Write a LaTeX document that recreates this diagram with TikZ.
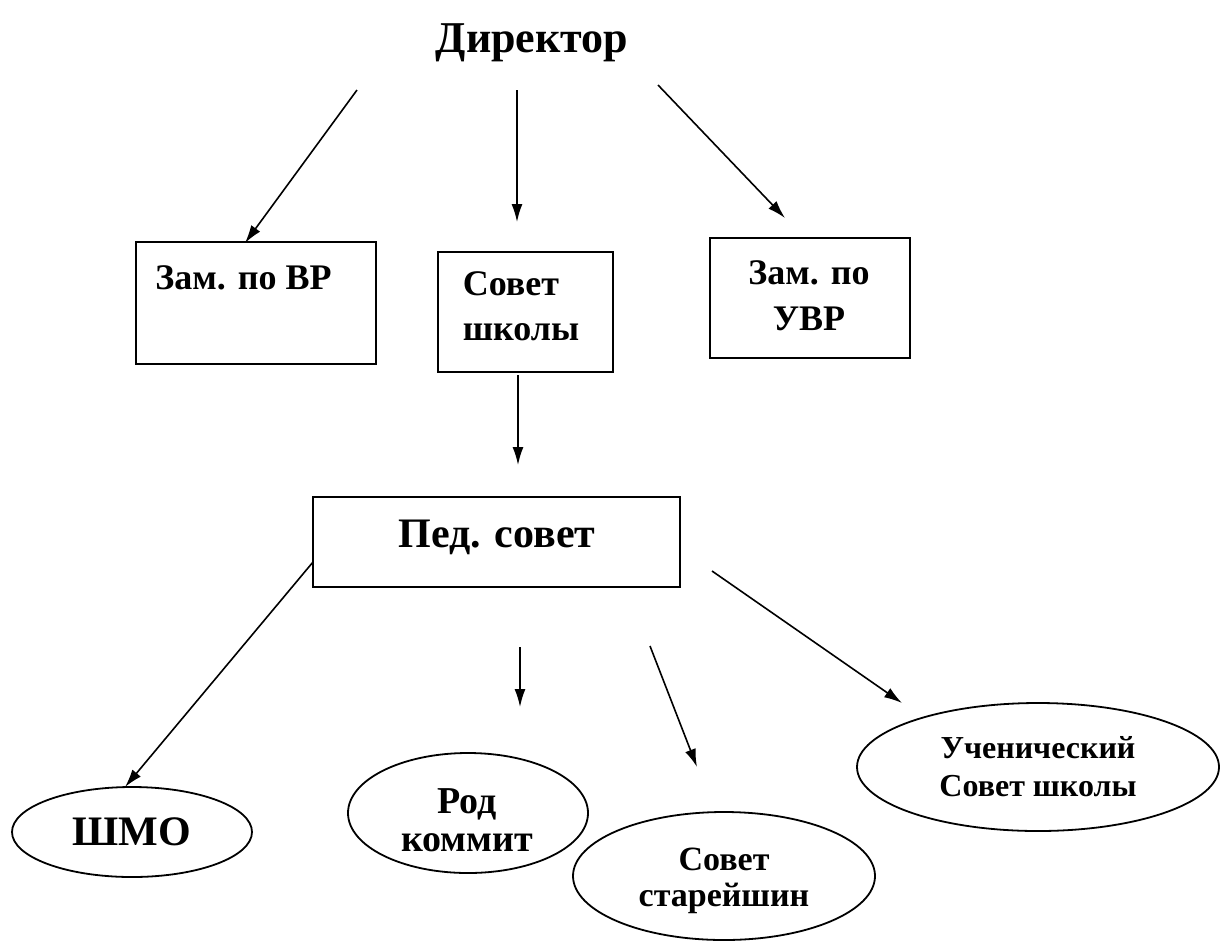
\documentclass[tikz,border=0pt]{standalone}
\usepackage{fontspec}
\setmainfont{Liberation Serif}
\usetikzlibrary{shapes.geometric,arrows.meta,fit}
\newcommand{\fsz}[2]{\fontsize{#1}{#2}\selectfont}
\tikzset{
  box/.style={draw, line width=1pt, inner sep=0pt},
  ell/.style={draw, ellipse, line width=0.9pt, inner sep=0pt},
  lbl/.style={inner sep=0pt},
  arr/.style={-{Latex[length=9pt,width=5.5pt]}, line width=0.8pt},
}
\begin{document}
\begin{tikzpicture}[x=0.5pt,y=-0.5pt]
\useasboundingbox (0,0) rectangle (1220,943);
% title
\node[lbl, font=\bfseries\fsz{22}{24}] (dir) at (532,43) {Директор};
% top boxes
\node[box, fit={(136,242)(376,364)}] (zvr) {};
\node[lbl, anchor=base west, font=\bfseries\fsz{18}{20}] (zvrt) at (155,289) {Зам. по ВР};
\node[box, fit={(438,252)(613,372)}] (sovet) {};
\node[lbl, align=left, font=\bfseries\fsz{18}{22.5}] (sovett) at (521,306) {Совет\\школы};
\node[box, fit={(710,238)(910,358)}] (zuvr) {};
\node[lbl, align=center, font=\bfseries\fsz{18}{23}] (zuvrt) at (809,296) {Зам. по\\УВР};
% ped box
\node[box, fit={(313,497)(680,587)}] (ped) {};
\node[lbl, font=\bfseries\fsz{21}{23}] (pedt) at (497,537) {Пед. совет};
% ellipses
\node[ell, minimum width=120pt, minimum height=45pt, font=\bfseries\fsz{21}{23}] (shmo) at (132,832) {ШМО};
\node[ell, minimum width=120pt, minimum height=60pt] (rod) at (468,813) {};
\node[lbl, align=center, font=\bfseries\fsz{19}{19}] (rodt) at (467,820) {Род\\коммит};
\node[ell, minimum width=151pt, minimum height=64pt] (star) at (724,876) {};
\node[lbl, align=center, font=\bfseries\fsz{17}{18}] (start) at (724,881) {Совет\\старейшин};
\node[ell, minimum width=181pt, minimum height=64pt] (uch) at (1038,767) {};
\node[lbl, align=center, font=\bfseries\fsz{16}{19}] (ucht) at (1038,767) {Ученический\\Совет школы};
% arrow coordinates
\coordinate (a1s) at (357,90);  \coordinate (a1e) at (245,243);
\coordinate (a2s) at (517,90);  \coordinate (a2e) at (517,222);
\coordinate (a3s) at (658,85);  \coordinate (a3e) at (785,218);
\coordinate (a4s) at (518,375); \coordinate (a4e) at (518,465);
\coordinate (a5s) at (313,562); \coordinate (a5e) at (125,787);
\coordinate (a6s) at (520,647); \coordinate (a6e) at (520,707);
\coordinate (a7s) at (650,646); \coordinate (a7e) at (697,767);
\coordinate (a8s) at (712,571); \coordinate (a8e) at (902,703);
\draw[arr] (a1s) -- (a1e);
\draw[arr] (a2s) -- (a2e);
\draw[arr] (a3s) -- (a3e);
\draw[arr] (a4s) -- (a4e);
\draw[arr] (a5s) -- (a5e);
\draw[arr] (a6s) -- (a6e);
\draw[arr] (a7s) -- (a7e);
\draw[arr] (a8s) -- (a8e);
\end{tikzpicture}
\end{document}
